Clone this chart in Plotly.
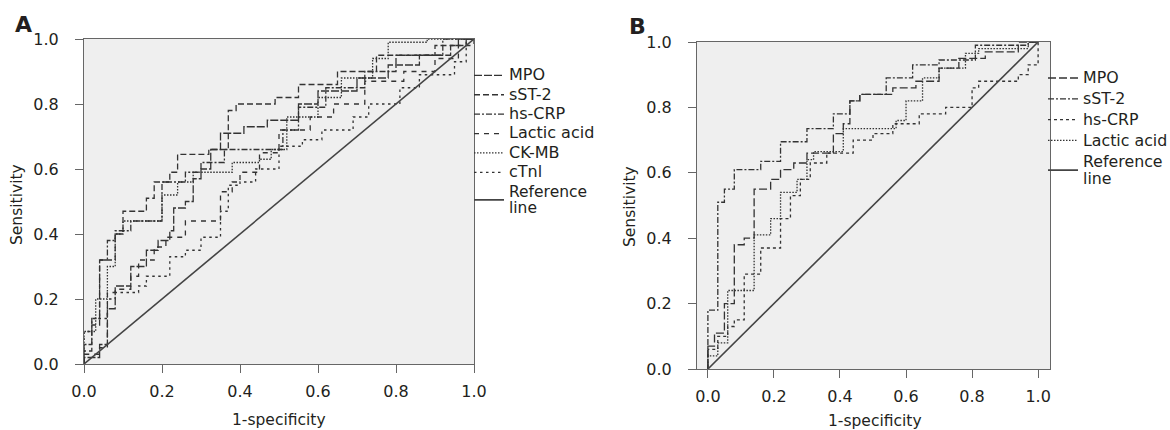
import plotly.graph_objects as go

FONT = "DejaVu Sans"
INK = "#231f20"
CURVE = "#333333"
AXIS = "#666666"
W, H = 1170, 430

# ---------------- Panel A data (step corners, 1-specificity / sensitivity) ----------------
a_names = ["MPO", "sST-2", "hs-CRP", "Lactic acid", "CK-MB", "cTnl"]

a_mpo_x = [0, 0, 0.04, 0.06, 0.08, 0.12, 0.16, 0.19, 0.22, 0.23, 0.26, 0.28, 0.30, 0.325, 0.35, 0.41, 0.47, 0.55, 0.60, 0.70, 0.78, 0.86, 0.94, 0.98, 1.0]
a_mpo_y = [0, 0.02, 0.06, 0.17, 0.24, 0.30, 0.35, 0.38, 0.41, 0.48, 0.50, 0.57, 0.60, 0.66, 0.71, 0.73, 0.75, 0.80, 0.84, 0.88, 0.92, 0.95, 0.98, 1.0, 1.0]

a_sst2_x = [0, 0, 0.02, 0.04, 0.08, 0.10, 0.16, 0.18, 0.22, 0.24, 0.32, 0.37, 0.39, 0.49, 0.55, 0.65, 0.75, 0.90, 0.96, 1.0]
a_sst2_y = [0, 0.04, 0.12, 0.32, 0.40, 0.47, 0.51, 0.56, 0.59, 0.645, 0.66, 0.78, 0.80, 0.82, 0.86, 0.90, 0.95, 0.98, 1.0, 1.0]

a_crp_x = [0, 0, 0.02, 0.04, 0.06, 0.08, 0.12, 0.20, 0.26, 0.30, 0.36, 0.51, 0.55, 0.62, 0.72, 0.80, 0.92, 1.0]
a_crp_y = [0, 0.06, 0.14, 0.32, 0.38, 0.41, 0.44, 0.56, 0.59, 0.62, 0.66, 0.72, 0.79, 0.85, 0.90, 0.95, 1.0, 1.0]

a_lac_x = [0, 0, 0.04, 0.06, 0.08, 0.12, 0.14, 0.18, 0.21, 0.26, 0.35, 0.38, 0.40, 0.45, 0.50, 0.58, 0.64, 0.72, 0.82, 0.90, 0.96, 1.0]
a_lac_y = [0, 0.03, 0.05, 0.22, 0.23, 0.27, 0.32, 0.36, 0.39, 0.44, 0.53, 0.56, 0.59, 0.65, 0.72, 0.76, 0.80, 0.87, 0.90, 0.94, 0.98, 1.0]

a_ckmb_x = [0, 0, 0.03, 0.06, 0.08, 0.10, 0.20, 0.24, 0.28, 0.38, 0.45, 0.48, 0.52, 0.60, 0.66, 0.74, 0.78, 0.88, 1.0]
a_ckmb_y = [0, 0.10, 0.20, 0.30, 0.40, 0.44, 0.52, 0.56, 0.59, 0.62, 0.63, 0.66, 0.76, 0.82, 0.88, 0.94, 0.99, 1.0, 1.0]

a_ctnl_x = [0, 0, 0.02, 0.06, 0.08, 0.14, 0.16, 0.22, 0.26, 0.30, 0.35, 0.37, 0.40, 0.44, 0.50, 0.56, 0.61, 0.69, 0.73, 0.81, 0.86, 0.95, 0.98, 1.0]
a_ctnl_y = [0, 0.10, 0.14, 0.20, 0.22, 0.24, 0.27, 0.33, 0.35, 0.39, 0.47, 0.55, 0.56, 0.60, 0.67, 0.69, 0.72, 0.76, 0.80, 0.85, 0.89, 0.93, 1.0, 1.0]

# ---------------- Panel B data ----------------
b_names = ["MPO", "sST-2", "hs-CRP", "Lactic acid"]

b_mpo_x = [0, 0, 0.02, 0.05, 0.08, 0.11, 0.14, 0.19, 0.22, 0.26, 0.30, 0.38, 0.41, 0.43, 0.46, 0.56, 0.63, 0.70, 0.76, 0.84, 0.94, 1.0]
b_mpo_y = [0, 0.07, 0.11, 0.20, 0.38, 0.40, 0.55, 0.58, 0.61, 0.63, 0.66, 0.72, 0.75, 0.82, 0.84, 0.86, 0.88, 0.92, 0.95, 0.97, 1.0, 1.0]

b_sst2_x = [0, 0, 0.03, 0.05, 0.08, 0.16, 0.22, 0.30, 0.38, 0.43, 0.46, 0.54, 0.62, 0.70, 0.81, 0.97, 1.0]
b_sst2_y = [0, 0.18, 0.51, 0.55, 0.61, 0.635, 0.695, 0.735, 0.78, 0.82, 0.84, 0.89, 0.93, 0.945, 0.99, 1.0, 1.0]

b_crp_x = [0, 0, 0.03, 0.06, 0.08, 0.11, 0.16, 0.22, 0.25, 0.28, 0.31, 0.36, 0.44, 0.50, 0.56, 0.64, 0.72, 0.80, 0.82, 0.94, 0.97, 1.0]
b_crp_y = [0, 0.06, 0.10, 0.13, 0.15, 0.29, 0.37, 0.46, 0.53, 0.58, 0.63, 0.66, 0.70, 0.72, 0.75, 0.78, 0.80, 0.86, 0.88, 0.90, 0.93, 1.0]

b_lac_x = [0, 0, 0.03, 0.06, 0.14, 0.19, 0.22, 0.27, 0.30, 0.32, 0.41, 0.57, 0.60, 0.65, 0.70, 0.78, 0.82, 0.97, 1.0]
b_lac_y = [0, 0.04, 0.08, 0.24, 0.41, 0.46, 0.54, 0.58, 0.64, 0.665, 0.735, 0.76, 0.82, 0.89, 0.92, 0.965, 0.98, 1.0, 1.0]

ref_x = [0, 1]
ref_y = [0, 1]
ticks = [0, 0.2, 0.4, 0.6, 0.8, 1.0]
tick_text = ["0.0", "0.2", "0.4", "0.6", "0.8", "1.0"]


def lbl(t, size=16):
    return '<span style="font-size:%spx">' % size + t + '</span>'


fig = go.Figure()

a_series = [
    (a_mpo_x, a_mpo_y, "8px,2px"),
    (a_sst2_x, a_sst2_y, "6px,3px"),
    (a_crp_x, a_crp_y, "6px,2px,2px,2px"),
    (a_lac_x, a_lac_y, "5px,5px"),
    (a_ckmb_x, a_ckmb_y, "1.5px,1.5px"),
    (a_ctnl_x, a_ctnl_y, "2.5px,3.5px"),
]
for name, (xs, ys, dash) in zip(a_names, a_series):
    fig.add_trace(go.Scatter(x=xs, y=ys, mode="lines", line_shape="hv",
                             line=dict(color=CURVE, width=1.3, dash=dash),
                             name=lbl(name), xaxis="x", yaxis="y", legend="legend"))
fig.add_trace(go.Scatter(x=ref_x, y=ref_y, mode="lines",
                         line=dict(color="#444444", width=1.6),
                         name=lbl("Reference", 15.5) + "<br>" + lbl("line", 15.5),
                         xaxis="x", yaxis="y", legend="legend"))

b_series = [
    (b_mpo_x, b_mpo_y, "8px,3px"),
    (b_sst2_x, b_sst2_y, "6px,2px,2px,2px"),
    (b_crp_x, b_crp_y, "3px,3px"),
    (b_lac_x, b_lac_y, "1.5px,1.5px"),
]
for name, (xs, ys, dash) in zip(b_names, b_series):
    fig.add_trace(go.Scatter(x=xs, y=ys, mode="lines", line_shape="hv",
                             line=dict(color=CURVE, width=1.3, dash=dash),
                             name=lbl(name, 15.8), xaxis="x2", yaxis="y2", legend="legend2"))
fig.add_trace(go.Scatter(x=ref_x, y=ref_y, mode="lines",
                         line=dict(color="#444444", width=1.6),
                         name=lbl("Reference", 15.8) + "<br>" + lbl("line", 15.8),
                         xaxis="x2", yaxis="y2", legend="legend2"))

axis_common = dict(tickvals=ticks, ticktext=tick_text, ticks="outside", ticklen=8,
                   tickcolor=AXIS, tickwidth=1, showline=True, mirror=True,
                   linecolor=AXIS, linewidth=1.2, showgrid=False, zeroline=False,
                   automargin=False,
                   tickfont=dict(family=FONT, size=16, color=INK))

fig.update_layout(
    width=W, height=H,
    margin=dict(l=0, r=0, t=0, b=0, autoexpand=False),
    paper_bgcolor="white",
    plot_bgcolor="#efefef",
    font=dict(family=FONT, color=INK),
    xaxis=dict(domain=[84 / W, 474 / W], range=[0, 1], anchor="y",
               ticklabelstandoff=5, **axis_common),
    yaxis=dict(domain=[(H - 364) / H, (H - 39) / H], range=[0, 1], anchor="x",
               ticklabelstandoff=13, **axis_common),
    xaxis2=dict(domain=[697 / W, 1050 / W], range=[-0.033, 1.036], anchor="y2",
                ticklabelstandoff=5, **axis_common),
    yaxis2=dict(domain=[(H - 369) / H, (H - 42) / H], range=[0, 1], anchor="x2",
                ticklabelstandoff=13, **axis_common),
    legend=dict(x=469 / W, y=(H - 60.7) / H, xanchor="left", yanchor="top",
                font=dict(family=FONT, size=12.6, color=INK), bgcolor="rgba(0,0,0,0)",
                borderwidth=0, itemwidth=30, tracegroupgap=0),
    legend2=dict(x=1043 / W, y=(H - 62.6) / H, xanchor="left", yanchor="top",
                 font=dict(family=FONT, size=13.7, color=INK), bgcolor="rgba(0,0,0,0)",
                 borderwidth=0, itemwidth=30, tracegroupgap=0),
    annotations=[
        dict(text="<b>A</b>", x=23 / W, y=(H - 25) / H, xref="paper", yref="paper",
             showarrow=False, xanchor="center", yanchor="middle",
             font=dict(family=FONT, size=22, color=INK)),
        dict(text="<b>B</b>", x=637 / W, y=(H - 26) / H, xref="paper", yref="paper",
             showarrow=False, xanchor="center", yanchor="middle",
             font=dict(family=FONT, size=22, color=INK)),
        dict(text="1-specificity", x=279 / W, y=(H - 420) / H, xref="paper", yref="paper",
             showarrow=False, xanchor="center", yanchor="middle",
             font=dict(family=FONT, size=15.5, color=INK)),
        dict(text="1-specificity", x=875 / W, y=(H - 421) / H, xref="paper", yref="paper",
             showarrow=False, xanchor="center", yanchor="middle",
             font=dict(family=FONT, size=15.5, color=INK)),
        dict(text="Sensitivity", x=17 / W, y=(H - 205) / H, xref="paper", yref="paper",
             showarrow=False, xanchor="center", yanchor="middle", textangle=-90,
             font=dict(family=FONT, size=15.5, color=INK)),
        dict(text="Sensitivity", x=630 / W, y=(H - 207) / H, xref="paper", yref="paper",
             showarrow=False, xanchor="center", yanchor="middle", textangle=-90,
             font=dict(family=FONT, size=15.5, color=INK)),
    ],
)

fig.write_html("out.html",
               config={"displayModeBar": False},
               post_script="document.body.style.margin='0px';document.body.style.overflow='hidden';")
